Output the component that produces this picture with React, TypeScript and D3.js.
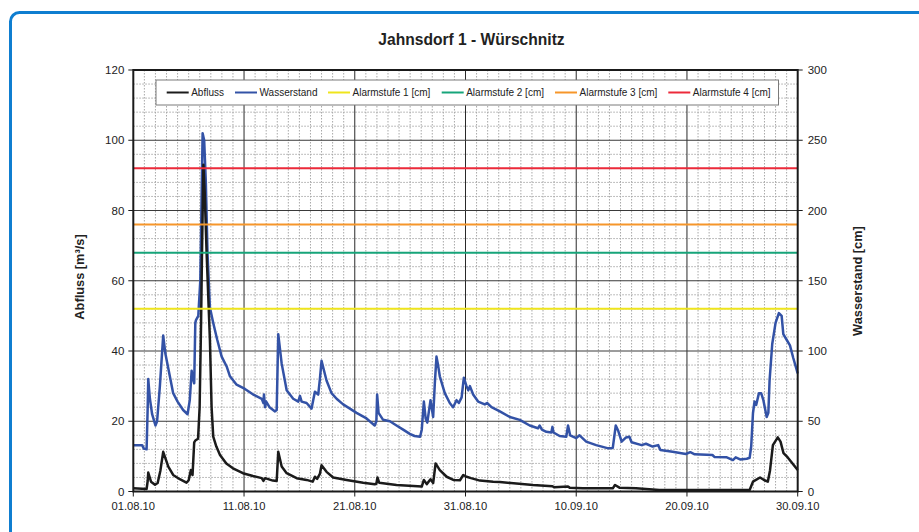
import React from 'react';
import * as d3 from 'd3';

// ---- data ----
const title = 'Jahnsdorf 1 - Würschnitz';
const leftAxisLabel = 'Abfluss [m³/s]';
const rightAxisLabel = 'Wasserstand [cm]';
const xTickDays = [0, 10, 20, 30, 40, 50, 60];
const xTickLabels = ['01.08.10', '11.08.10', '21.08.10', '31.08.10', '10.09.10', '20.09.10', '30.09.10'];
const leftTicks = [0, 20, 40, 60, 80, 100, 120];
const rightTicks = [0, 50, 100, 150, 200, 250, 300];
const alarmNames = ['Alarmstufe 1 [cm]', 'Alarmstufe 2 [cm]', 'Alarmstufe 3 [cm]', 'Alarmstufe 4 [cm]'];
const alarmLevels = [130, 170, 190, 230];
const alarmColors = ['#efe51c', '#17a57a', '#f6962a', '#ec2a3a'];
const seriesNames = ['Abfluss', 'Wasserstand'];
const seriesColors = ['#1b1b1b', '#3352a6'];

// [day since 01.08.10, cm]
const wasserstand: [number, number][] = [
  [0, 33], [0.8, 33], [0.95, 30.5], [1.2, 30], [1.3, 60], [1.35, 80], [1.5, 66], [1.7, 55], [2.0, 47], [2.15, 50],
  [2.4, 75], [2.7, 111], [2.9, 98], [3.3, 82], [3.6, 70], [4.0, 64], [4.5, 58], [4.9, 55], [5.1, 65], [5.27, 86],
  [5.4, 80], [5.5, 77], [5.6, 120], [5.66, 122], [5.87, 125], [6.05, 150], [6.15, 200], [6.26, 255], [6.4, 250],
  [6.55, 220], [6.7, 170], [6.92, 131], [7.22, 120], [7.58, 108], [7.98, 96], [8.43, 89], [8.73, 82], [9.33, 76],
  [10.08, 73], [10.83, 69], [11.6, 66], [11.75, 63], [11.8, 69], [11.9, 60], [12.0, 64], [12.3, 60], [12.8, 57],
  [12.95, 58], [13.09, 112], [13.4, 91], [13.85, 72], [14.44, 66], [14.9, 64], [15.05, 68], [15.2, 64], [15.65, 63],
  [16.1, 59], [16.3, 67], [16.4, 71], [16.7, 69], [16.85, 80], [17.0, 93], [17.45, 79], [17.9, 70], [18.36, 66],
  [18.95, 62], [19.56, 59], [20.16, 56], [21.06, 52], [21.8, 47], [21.95, 50], [22.02, 69], [22.15, 56], [22.56, 51],
  [23.17, 50], [23.77, 47], [24.37, 44], [24.97, 41], [25.4, 39.5], [25.9, 39], [26.05, 44], [26.24, 64], [26.4, 52],
  [26.55, 49], [26.84, 65], [27.08, 53], [27.23, 77], [27.38, 96], [27.5, 91], [27.68, 82], [27.9, 76], [28.13, 70],
  [28.58, 63], [28.88, 60], [29.19, 65], [29.4, 63], [29.65, 67], [29.85, 81], [30.09, 75], [30.25, 72], [30.4, 75],
  [30.69, 69], [31.14, 64], [31.74, 62], [31.95, 63], [32.35, 60], [33.1, 57], [34.0, 53], [34.9, 51], [35.8, 47],
  [36.55, 45], [36.7, 47], [36.9, 44], [37.3, 42.5], [37.75, 42], [37.85, 46], [37.95, 42], [38.5, 39.5], [39.1, 39],
  [39.26, 47], [39.45, 40], [40.0, 38], [40.3, 40], [40.9, 35.5], [41.8, 33], [42.9, 30.7], [43.3, 31], [43.57, 47],
  [43.8, 43], [44.1, 35.5], [44.5, 38.5], [44.8, 39], [45.0, 35], [45.9, 33], [46.3, 34], [46.9, 32], [47.4, 33],
  [47.6, 29.5], [48.7, 28.3], [49.9, 26.7], [50.3, 28], [50.7, 26.5], [52.3, 26], [52.5, 24.5], [53.6, 24.3],
  [54.15, 22.4], [54.4, 24.3], [54.8, 22.8], [55.4, 23.3], [55.66, 24], [55.8, 32], [55.96, 55.7], [56.1, 64],
  [56.25, 61.6], [56.5, 70], [56.7, 70], [56.9, 65], [57.2, 53], [57.35, 56], [57.46, 79], [57.7, 105], [58.0, 120],
  [58.3, 127], [58.55, 125], [58.7, 112], [59.0, 108], [59.3, 104], [59.6, 95], [60, 84],
];

// [day since 01.08.10, m³/s]
const abfluss: [number, number][] = [
  [0, 0.9], [1.2, 0.7], [1.3, 3], [1.35, 5.4], [1.6, 2.8], [1.96, 1.9], [2.2, 2.4], [2.45, 6], [2.7, 11.3], [3.16, 7.1],
  [3.6, 4.7], [4.2, 3.5], [4.8, 2.5], [5.0, 3.2], [5.2, 6.1], [5.35, 4.7], [5.5, 14], [5.6, 14.5], [5.85, 15], [5.99, 24],
  [6.12, 48], [6.2, 67], [6.33, 93], [6.45, 85], [6.62, 68], [6.92, 43], [7.07, 24], [7.22, 15.6], [7.5, 12.8],
  [7.83, 10.4], [8.4, 8], [9.0, 6.6], [9.9, 5.2], [10.8, 4.4], [11.6, 3.8], [11.75, 3.0], [11.9, 3.8], [12.6, 3.1],
  [12.95, 3.0], [13.09, 11.3], [13.4, 7.1], [13.85, 5.2], [14.75, 3.8], [15.65, 3.3], [16.2, 2.8], [16.4, 4.2],
  [16.6, 3.6], [16.85, 5], [17.0, 7.5], [17.45, 5.6], [18.05, 4], [19.26, 3.3], [20.76, 2.5], [21.8, 2.05],
  [21.95, 2.2], [22.05, 4], [22.2, 2.5], [23.77, 1.85], [25.3, 1.57], [26.05, 1.4], [26.24, 3.3], [26.5, 2.1],
  [26.84, 3.5], [27.08, 2.4], [27.3, 8], [27.68, 6.1], [28.3, 4.2], [28.9, 3.3], [29.5, 3.2], [29.8, 4.7], [30.1, 4.2],
  [30.5, 3.8], [31.3, 3.1], [32.5, 2.8], [33.1, 2.7], [36.1, 1.85], [37.85, 1.5], [38.0, 1.2], [39.26, 1.4],
  [39.4, 1.1], [40.6, 0.9], [43.3, 0.9], [43.5, 1.85], [43.9, 1.1], [45.4, 0.9], [47.5, 0.45], [55.66, 0.45],
  [55.96, 2.8], [56.6, 4.0], [57.0, 3.2], [57.3, 2.8], [57.5, 6], [57.76, 13.2], [58.2, 15.4], [58.45, 14.2],
  [58.72, 10.9], [59.1, 9.7], [60, 6.1],
];

const W = 919;
const H = 532;
const M = { left: 133.3, right: 797.7, top: 70, bottom: 491.5 };
const FONT = '"Liberation Sans", Arial, sans-serif';

export default function App() {
  const x = d3.scaleLinear().domain([0, 60]).range([M.left, M.right]);
  const yL = d3.scaleLinear().domain([0, 120]).range([M.bottom, M.top]);
  const yR = d3.scaleLinear().domain([0, 300]).range([M.bottom, M.top]);

  const lineW = d3.line<[number, number]>().x(d => x(d[0])).y(d => yR(d[1]));
  const lineQ = d3.line<[number, number]>().x(d => x(d[0])).y(d => yL(d[1]));

  const minorX = d3.range(0, 61, 1).filter(d => d % 10 !== 0);
  const minorY = d3.range(0, 121, 4).filter(d => d % 20 !== 0);
  const majorX = xTickDays.filter(d => d > 0 && d < 60);
  const majorY = leftTicks.filter(d => d > 0 && d < 120);

  const legendItems = [
    ...seriesNames.map((n, i) => ({ name: n, color: seriesColors[i] })),
    ...alarmNames.map((n, i) => ({ name: n, color: alarmColors[i] })),
  ];
  const legendX = [166.7, 235, 328, 441.7, 555, 668.3];

  return (
    <svg width={W} height={H} style={{ position: 'absolute', left: 0, top: 0, background: '#fff' }} fontFamily={FONT}>
      <rect x={10.5} y={12.5} width={960} height={600} rx={9} fill="#fff" stroke="#0f7ed0" strokeWidth={3} />
      <text x={471.5} y={45} textAnchor="middle" fontSize={15.6} fontWeight="bold" fill="#222">{title}</text>

      {/* grid */}
      <g>
        {minorX.map(d => (
          <line key={'mx' + d} x1={x(d)} x2={x(d)} y1={M.top} y2={M.bottom} stroke="#a8a8a8" strokeWidth={1} strokeDasharray="1.5,1.5" />
        ))}
        {minorY.map(d => (
          <line key={'my' + d} x1={M.left} x2={M.right} y1={yL(d)} y2={yL(d)} stroke="#a8a8a8" strokeWidth={1} strokeDasharray="1.5,1.5" />
        ))}
        {majorX.map(d => (
          <line key={'Mx' + d} x1={x(d)} x2={x(d)} y1={M.top} y2={M.bottom} stroke="#2a2a2a" strokeWidth={1} />
        ))}
        {majorY.map(d => (
          <line key={'My' + d} x1={M.left} x2={M.right} y1={yL(d)} y2={yL(d)} stroke="#3a3a3a" strokeWidth={1} />
        ))}
      </g>

      {/* series */}
      <path d={lineW(wasserstand) || ''} fill="none" stroke={seriesColors[1]} strokeWidth={2.5} strokeLinejoin="round" />
      <path d={lineQ(abfluss) || ''} fill="none" stroke={seriesColors[0]} strokeWidth={2.5} strokeLinejoin="round" />

      {/* alarm levels */}
      {alarmLevels.map((a, i) => (
        <line key={'al' + i} x1={M.left} x2={M.right} y1={yR(a)} y2={yR(a)} stroke={alarmColors[i]} strokeWidth={2} />
      ))}

      {/* frame */}
      <rect x={M.left} y={M.top} width={M.right - M.left} height={M.bottom - M.top} fill="none" stroke="#1a1a1a" strokeWidth={2} />

      {/* left axis */}
      {leftTicks.map(t => (
        <g key={'lt' + t}>
          <line x1={M.left - 5} x2={M.left} y1={yL(t)} y2={yL(t)} stroke="#1a1a1a" strokeWidth={1} />
          <text x={M.left - 9} y={yL(t) + 4} textAnchor="end" fontSize={11.5} fill="#222">{t}</text>
        </g>
      ))}
      {/* right axis */}
      {rightTicks.map(t => (
        <g key={'rt' + t}>
          <line x1={M.right} x2={M.right + 5} y1={yR(t)} y2={yR(t)} stroke="#1a1a1a" strokeWidth={1} />
          <text x={M.right + 10} y={yR(t) + 4} textAnchor="start" fontSize={11.5} fill="#222">{t}</text>
        </g>
      ))}
      {/* x axis */}
      {xTickDays.map((d, i) => (
        <g key={'xt' + d}>
          <line x1={x(d)} x2={x(d)} y1={M.bottom} y2={M.bottom + 5} stroke="#1a1a1a" strokeWidth={1} />
          <text x={x(d)} y={M.bottom + 18} textAnchor="middle" fontSize={11.2} fill="#222">{xTickLabels[i]}</text>
        </g>
      ))}

      <text transform={`translate(84,277) rotate(-90)`} textAnchor="middle" fontSize={12.8} fontWeight="bold" fill="#222">{leftAxisLabel}</text>
      <text transform={`translate(862,281) rotate(-90)`} textAnchor="middle" fontSize={12.8} fontWeight="bold" fill="#222">{rightAxisLabel}</text>

      {/* legend */}
      <rect x={156} y={80} width={622.5} height={25} fill="#fff" stroke="#7a7a7a" strokeWidth={1} />
      {legendItems.map((it, i) => (
        <g key={'lg' + i}>
          <line x1={legendX[i]} x2={legendX[i] + 22} y1={92.5} y2={92.5} stroke={it.color} strokeWidth={2} />
          <text x={legendX[i] + 24.5} y={96} fontSize={10} fill="#222">{it.name}</text>
        </g>
      ))}
    </svg>
  );
}
